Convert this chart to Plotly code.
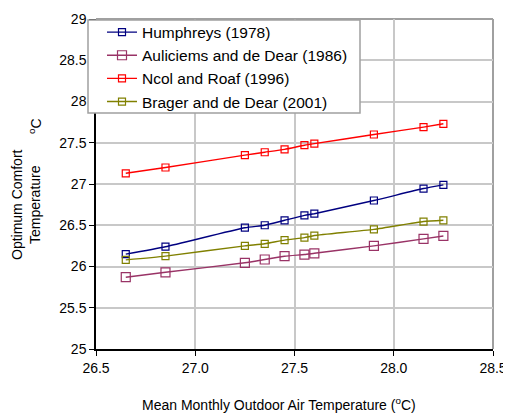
import plotly.graph_objects as go

x_vals = [26.65, 26.85, 27.25, 27.35, 27.45, 27.55, 27.60, 27.90, 28.15, 28.25]
humphreys = [26.15, 26.24, 26.47, 26.50, 26.56, 26.62, 26.64, 26.80, 26.945, 26.99]
auliciems = [25.87, 25.93, 26.045, 26.085, 26.125, 26.145, 26.16, 26.25, 26.335, 26.37]
nicol = [27.13, 27.20, 27.35, 27.385, 27.42, 27.47, 27.49, 27.60, 27.69, 27.73]
brager = [26.08, 26.126, 26.25, 26.275, 26.32, 26.35, 26.375, 26.45, 26.545, 26.56]

series_names = ["Humphreys (1978)", "Auliciems and de Dear (1986)",
                "Ncol and Roaf (1996)", "Brager and de Dear (2001)"]
series_vals = [humphreys, auliciems, nicol, brager]
colors = ["#000080", "#993366", "#FF0000", "#808000"]
msizes = [7, 9, 7, 7]

FONT = "Liberation Sans, Arial, sans-serif"

fig = go.Figure()
for name, vals, c, ms in zip(series_names, series_vals, colors, msizes):
    fig.add_trace(go.Scatter(
        x=x_vals, y=vals, name=name, mode="lines+markers",
        line=dict(color=c, width=1.4, shape="spline", smoothing=0.5),
        marker=dict(symbol="square-open", size=ms, color=c, line=dict(width=1.2, color=c)),
    ))

# page body has an 8px margin; figure is placed at (8, 8) in the window
W, H = 503, 406
PL, PR, PT, PB = 96, 493, 19, 349  # plot area in window pixels
fig.update_layout(
    width=W, height=H,
    margin=dict(l=PL - 8, r=W - (PR - 8), t=PT - 8, b=H - (PB - 8), autoexpand=False),
    paper_bgcolor="white", plot_bgcolor="white",
    font=dict(family=FONT, size=14, color="#000000"),
    showlegend=True,
    legend=dict(
        x=(102 - PL) / (PR - PL), y=1 + (PT - 15.5) / (PB - PT), xanchor="left", yanchor="top",
        bgcolor="rgba(0,0,0,0)", borderwidth=0,
        font=dict(family=FONT, size=15.5, color="#000000"),
        tracegroupgap=0,
    ),
    xaxis=dict(
        range=[26.5, 28.5], tickvals=[26.5, 27.0, 27.5, 28.0, 28.5],
        tickformat=".1f", showgrid=True, gridcolor="#c8c8c8", gridwidth=1.5,
        showline=True, linecolor="#000000", linewidth=1.5,
        ticks="outside", ticklen=5, tickcolor="#000000",
        zeroline=False, tickfont=dict(size=14), automargin=False,
        ticklabeloverflow="allow",
    ),
    yaxis=dict(
        range=[25, 29], tickvals=[25, 25.5, 26, 26.5, 27, 27.5, 28, 28.5, 29],
        showgrid=True, gridcolor="#c8c8c8", gridwidth=1.5,
        showline=True, linecolor="#000000", linewidth=1.5,
        ticks="outside", ticklen=5, tickcolor="#000000",
        zeroline=False, tickfont=dict(size=14), automargin=False,
        ticklabeloverflow="allow",
    ),
)

def px_x(p):
    return (p - PL) / (PR - PL)

def px_y(p):
    return (PB - p) / (PB - PT)

# darker gray top and right border
fig.add_shape(type="line", xref="paper", yref="paper", x0=0, x1=1, y0=1, y1=1,
              line=dict(color="#a0a0a0", width=2), layer="below")
fig.add_shape(type="line", xref="paper", yref="paper", x0=1, x1=1, y0=0, y1=1,
              line=dict(color="#a0a0a0", width=2), layer="below")
# legend box
fig.add_shape(type="rect", xref="paper", yref="paper",
              x0=px_x(88), x1=px_x(360), y0=px_y(113), y1=px_y(20),
              line=dict(color="#a0a0a0", width=1.5), fillcolor="white", layer="above")

# axis titles
fig.add_annotation(text="Mean Monthly Outdoor Air Temperature (<sup>o</sup>C)",
                   xref="paper", yref="paper", x=px_x(279), y=px_y(404),
                   xanchor="center", yanchor="middle", showarrow=False,
                   font=dict(size=14))
fig.add_annotation(text="Optimum Comfort<br>Temperature",
                   xref="paper", yref="paper", x=px_x(26), y=px_y(205),
                   xanchor="center", yanchor="middle", showarrow=False, textangle=-90,
                   font=dict(size=14))
fig.add_annotation(text="<sup>o</sup>C",
                   xref="paper", yref="paper", x=px_x(35), y=px_y(126),
                   xanchor="center", yanchor="middle", showarrow=False, textangle=-90,
                   font=dict(size=14))

fig.write_html("out.html")
